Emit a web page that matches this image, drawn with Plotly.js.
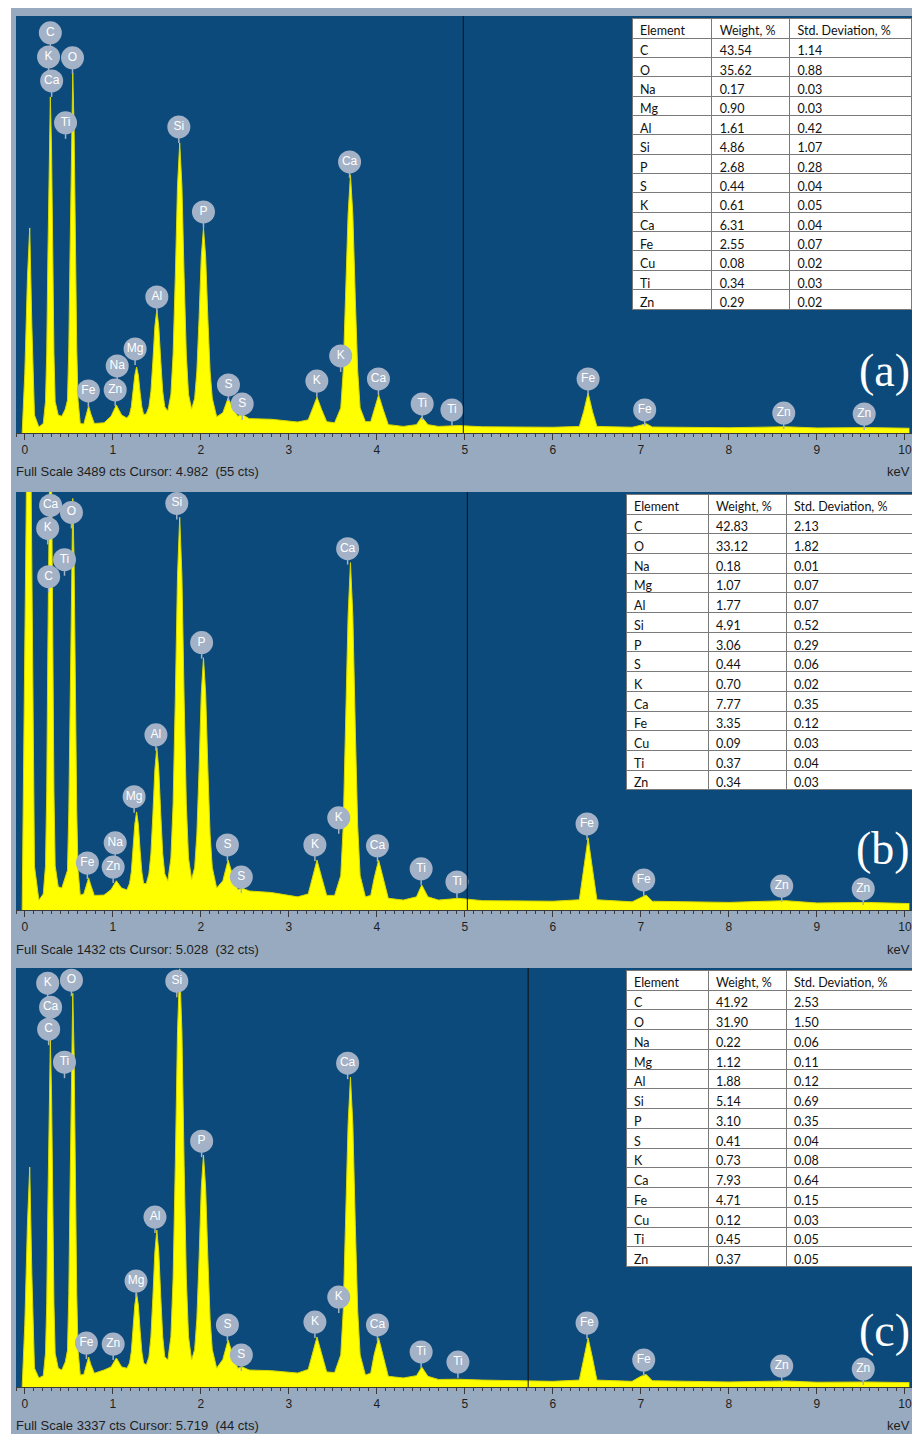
<!DOCTYPE html>
<html>
<head>
<meta charset="utf-8">
<script src="https://cdn.plot.ly/plotly-3.0.1.min.js"></script>
<style>
  html, body { margin: 0; padding: 0; background: #ffffff; }
  #chart { width: 912px; height: 1434px; }
</style>
</head>
<body>
<div id="chart"></div>
<script>
// ---------- DATA ----------
// Shared energy grid (keV)
const energyKeV = [
  -0.03, 0.00, 0.03, 0.056, 0.08, 0.11, 0.16, 0.21,
  0.235, 0.249, 0.262, 0.276, 0.29, 0.304, 0.318, 0.331, 0.345,
  0.38, 0.42, 0.46,
  0.485, 0.50, 0.515, 0.53, 0.545, 0.56, 0.575, 0.59, 0.605,
  0.63, 0.67, 0.70, 0.725, 0.75, 0.79,
  0.90, 0.98, 1.04, 1.10, 1.16,
  1.19, 1.21, 1.23, 1.25, 1.27, 1.29, 1.31, 1.33, 1.35,
  1.38,
  1.41, 1.433, 1.455, 1.478, 1.50, 1.522, 1.545, 1.567, 1.59,
  1.625,
  1.66, 1.685, 1.71, 1.735, 1.76, 1.785, 1.81, 1.835, 1.86,
  1.895,
  1.93, 1.955, 1.98, 2.005, 2.03, 2.055, 2.08, 2.105, 2.13,
  2.18,
  2.25, 2.31, 2.37, 2.42, 2.47, 2.55,
  2.80, 3.10,
  3.22, 3.27, 3.32, 3.37, 3.43,
  3.52,
  3.59, 3.618, 3.645, 3.673, 3.70, 3.727, 3.755, 3.782, 3.81,
  3.87,
  3.93, 3.97, 4.02, 4.07, 4.13,
  4.30, 4.45, 4.51, 4.58, 4.70,
  4.93, 5.20, 6.00,
  6.30, 6.35, 6.40, 6.45, 6.50,
  6.90, 7.00, 7.06, 7.13,
  8.00, 8.64, 9.00, 9.57, 10.05
];

const countsA = [
  0, 500, 1300, 1716, 900, 150, 50, 80,
  263, 670, 1456, 2378, 2812, 2378, 1456, 670, 263,
  150, 140, 200,
  275, 712, 1556, 2547, 3013, 2547, 1556, 712, 275,
  80, 75, 170, 226, 160, 80,
  85, 140, 234, 150, 125,
  155, 219, 341, 484, 552, 484, 341, 219, 155,
  160,
  219, 348, 599, 892, 1030, 892, 599, 348, 219,
  185,
  324, 660, 1309, 2069, 2427, 2069, 1309, 660, 324,
  200,
  291, 518, 958, 1473, 1716, 1473, 958, 518, 291,
  135,
  170, 293, 200, 140, 155, 120,
  115, 92,
  110, 210, 300, 200, 95,
  85,
  210, 521, 1123, 1828, 2160, 1828, 1123, 521, 210,
  95,
  95, 200, 318, 200, 70,
  55, 70, 134, 70, 55,
  62, 52, 48,
  55, 180, 335, 180, 55,
  48, 65, 78, 50,
  44, 52, 42, 45, 40
];

const countsB = [
  0, 1000, 1800, 2000, 1200, 150, 34, 55,
  152, 407, 900, 1478, 1750, 1478, 900, 407, 152,
  80, 75, 110,
  136, 340, 732, 1193, 1410, 1193, 732, 340, 136,
  51, 55, 90, 110, 85, 50,
  51, 70, 100, 75, 69,
  91, 130, 205, 294, 336, 294, 205, 130, 91,
  90,
  124, 193, 326, 482, 556, 482, 326, 193, 124,
  100,
  178, 364, 724, 1146, 1345, 1146, 724, 364, 178,
  105,
  146, 260, 482, 742, 864, 742, 482, 260, 146,
  75,
  100, 171, 110, 70, 75, 65,
  60, 45,
  55, 115, 171, 115, 50,
  50,
  118, 289, 620, 1008, 1190, 1008, 620, 289, 118,
  45,
  50, 110, 171, 110, 40,
  34, 45, 86, 45, 34,
  40, 32, 30,
  35, 140, 247, 140, 35,
  28, 42, 51, 30,
  26, 32, 24, 26, 22
];

const countsC = [
  0, 500, 1300, 1751, 900, 150, 72, 90,
  269, 667, 1436, 2338, 2762, 2338, 1436, 667, 269,
  150, 135, 200,
  292, 745, 1623, 2652, 3136, 2652, 1623, 745, 292,
  95, 100, 190, 239, 180, 110,
  135, 160, 231, 160, 150,
  191, 280, 452, 653, 748, 653, 452, 280, 191,
  175,
  240, 401, 713, 1078, 1250, 1078, 713, 401, 240,
  215,
  402, 869, 1773, 2832, 3330, 2832, 1773, 869, 402,
  215,
  299, 546, 1024, 1583, 1847, 1583, 1024, 546, 299,
  150,
  220, 374, 240, 150, 160, 135,
  130, 111,
  140, 280, 398, 270, 120,
  115,
  256, 609, 1292, 2092, 2468, 2092, 1292, 609, 256,
  95,
  110, 260, 390, 250, 85,
  72, 90, 159, 85, 60,
  62, 55, 45,
  55, 230, 390, 230, 55,
  45, 85, 100, 50,
  40, 48, 38, 40, 35
];

// Peak labels (element symbol, keV, counts)
const labelTextA = ['C','K','Ca','O','Ti','Si','P','Al','Mg','Na','Fe','Zn','S','S','K','K','Ca','Ca','Ti','Ti','Fe','Fe','Zn','Zn'];
const labelKeVA = [0.29,0.27,0.305,0.542,0.463,1.75,2.03,1.50,1.253,1.05,0.722,1.027,2.314,2.47,3.318,3.589,3.69,4.018,4.515,4.853,6.40,7.043,8.623,9.537];
const labelCountsA = [3348,3147,2946,3139,2595,2561,1850,1138,703,561,352,360,402,243,435,645,2268,452,243,193,452,193,167,159];

const labelTextB = ['Ca','O','K','Ti','C','Si','P','Al','Mg','Na','Fe','Zn','S','S','K','K','Ca','Ca','Ti','Ti','Fe','Fe','Zn','Zn'];
const labelKeVB = [0.293,0.53,0.26,0.451,0.271,1.727,2.009,1.49,1.242,1.027,0.711,1.004,2.302,2.46,3.296,3.567,3.668,4.007,4.503,4.91,6.388,7.032,8.6,9.526];
const labelCountsB = [1386,1362,1307,1200,1142,1393,916,600,388,230,161,147,223,113,223,316,1238,220,141,96,295,103,82,72];

const labelTextC = ['K','O','Ca','C','Ti','Si','P','Al','Mg','Fe','Zn','S','S','K','K','Ca','Ca','Ti','Ti','Fe','Fe','Zn','Zn'];
const labelKeVC = [0.26,0.53,0.293,0.271,0.451,1.727,2.009,1.479,1.264,0.700,1.004,2.302,2.46,3.296,3.567,3.668,4.007,4.503,4.921,6.388,7.032,8.6,9.526];
const labelCountsC = [3216,3240,3025,2850,2587,3232,1958,1353,844,350,342,494,255,517,716,2579,494,279,199,509,215,167,143];

// Acquisition info
const fullScaleCts = [3489, 1432, 3337];
const cursorKeV = [4.982, 5.028, 5.719];
const cursorCts = [55, 32, 44];
const panelLetters = ['(a)', '(b)', '(c)'];
const tickValues = [0,1,2,3,4,5,6,7,8,9,10];

// Composition tables
const tableHeader = ['Element', 'Weight, %', 'Std. Deviation, %'];
const elements = ['C','O','Na','Mg','Al','Si','P','S','K','Ca','Fe','Cu','Ti','Zn'];
const weightA = ['43.54','35.62','0.17','0.90','1.61','4.86','2.68','0.44','0.61','6.31','2.55','0.08','0.34','0.29'];
const stdA    = ['1.14','0.88','0.03','0.03','0.42','1.07','0.28','0.04','0.05','0.04','0.07','0.02','0.03','0.02'];
const weightB = ['42.83','33.12','0.18','1.07','1.77','4.91','3.06','0.44','0.70','7.77','3.35','0.09','0.37','0.34'];
const stdB    = ['2.13','1.82','0.01','0.07','0.07','0.52','0.29','0.06','0.02','0.35','0.12','0.03','0.04','0.03'];
const weightC = ['41.92','31.90','0.22','1.12','1.88','5.14','3.10','0.41','0.73','7.93','4.71','0.12','0.45','0.37'];
const stdC    = ['2.53','1.50','0.06','0.11','0.12','0.69','0.35','0.04','0.08','0.64','0.15','0.03','0.05','0.05'];

// ---------- LAYOUT HELPERS ----------
const W = 912, H = 1434;
const px = v => v / W;
const py = v => 1 - v / H;

const panels = [
  {counts: countsA, lt: labelTextA, lk: labelKeVA, lc: labelCountsA, weight: weightA, std: stdA,
   top: 16, bottom: 433, tbl: {x0: 632, y0: 18, y1: 309, cw: [80, 78, 122], ch: 19.36}, letterY: 370, infoY: 472},
  {counts: countsB, lt: labelTextB, lk: labelKeVB, lc: labelCountsB, weight: weightB, std: stdB,
   top: 492, bottom: 910, tbl: {x0: 626, y0: 494, y1: 790, cw: [82, 78, 126], ch: 19.7}, letterY: 848, infoY: 949},
  {counts: countsC, lt: labelTextC, lk: labelKeVC, lc: labelCountsC, weight: weightC, std: stdC,
   top: 968, bottom: 1387, tbl: {x0: 626, y0: 970, y1: 1267, cw: [82, 78, 126], ch: 19.75}, letterY: 1330, infoY: 1425}
];

const plotBg = '#0c4a7c';
const frameColor = '#97aac0';
const yellow = '#ffff00';
const labelGrey = '#a3b2c6';
const tickFont = {family: 'Liberation Sans, Arial, sans-serif', size: 12, color: '#1e1e1e'};

const data = [];
const layout = {
  width: W, height: H,
  margin: {l: 0, r: 0, t: 0, b: 0},
  paper_bgcolor: frameColor,
  plot_bgcolor: plotBg,
  showlegend: false,
  hovermode: false,
  shapes: [
    {type: 'rect', xref: 'paper', yref: 'paper', x0: 0, x1: px(11), y0: 0, y1: 1,
     fillcolor: '#ffffff', line: {width: 0}, layer: 'above'},
    {type: 'rect', xref: 'paper', yref: 'paper', x0: 0, x1: 1, y0: py(8), y1: 1,
     fillcolor: '#ffffff', line: {width: 0}, layer: 'above'}
  ],
  annotations: []
};

panels.forEach((p, i) => {
  const n = i === 0 ? '' : String(i + 1);
  const xa = 'xaxis' + n, ya = 'yaxis' + n;
  const xr = 'x' + n, yr = 'y' + n;
  const fs = fullScaleCts[i];
  const ctsPerPx = fs / (p.bottom - p.top);

  layout[xa] = {
    domain: [px(16), 1],
    anchor: yr,
    range: [-0.10, 10.08],
    tickmode: 'array', tickvals: tickValues,
    ticks: 'outside', ticklen: 6, tickwidth: 1, tickcolor: '#3a3a3a',
    minor: {dtick: 0.1, tick0: 0, ticks: 'outside', ticklen: 3, tickwidth: 1, tickcolor: '#3a3a3a'},
    showline: true, linecolor: '#3a3a3a', linewidth: 1,
    showgrid: false, zeroline: false,
    tickfont: tickFont,
    fixedrange: true
  };
  layout[ya] = {
    domain: [py(p.bottom), py(p.top)],
    anchor: xr,
    range: [0, fs],
    visible: false,
    showgrid: false, zeroline: false,
    fixedrange: true
  };

  // spectrum
  data.push({
    type: 'scatter', mode: 'lines', xaxis: xr, yaxis: yr,
    x: energyKeV, y: p.counts,
    fill: 'tozeroy', fillcolor: yellow,
    line: {color: '#d8d800', width: 1}
  });

  // stems under the label circles
  const sx = [], sy = [];
  const stemLen = 16 * ctsPerPx;
  p.lk.forEach((k, j) => {
    sx.push(k, k, null);
    sy.push(p.lc[j], p.lc[j] - stemLen, null);
  });
  data.push({
    type: 'scatter', mode: 'lines', xaxis: xr, yaxis: yr,
    x: sx, y: sy, line: {color: labelGrey, width: 1.5}, cliponaxis: false
  });

  // label circles
  data.push({
    type: 'scatter', mode: 'markers+text', xaxis: xr, yaxis: yr,
    x: p.lk, y: p.lc, text: p.lt,
    textposition: 'middle center',
    textfont: {family: 'Liberation Sans, Arial, sans-serif', size: 12, color: '#ffffff'},
    marker: {size: 23, color: labelGrey, line: {width: 0}},
    cliponaxis: false
  });

  // composition table
  data.push({
    type: 'table',
    domain: {x: [px(p.tbl.x0), 1], y: [py(p.tbl.y1 + 4), py(p.tbl.y0)]},
    columnwidth: p.tbl.cw,
    header: {
      values: tableHeader,
      align: 'left', height: 20,
      fill: {color: '#ffffff'},
      line: {color: '#7a7a7a', width: 1},
      font: {family: 'Lato, Open Sans, sans-serif', size: 12.5, color: '#111111'}
    },
    cells: {
      values: [elements, p.weight, p.std],
      align: 'left', height: p.tbl.ch,
      fill: {color: '#ffffff'},
      line: {color: '#7a7a7a', width: 1},
      font: {family: 'Lato, Open Sans, sans-serif', size: 12.5, color: '#111111'}
    }
  });

  // cursor line
  layout.shapes.push({
    type: 'line', xref: xr, yref: yr + ' domain',
    x0: cursorKeV[i], x1: cursorKeV[i], y0: 0, y1: 1,
    line: {color: '#111111', width: 1}
  });

  // info line
  layout.annotations.push({
    xref: 'paper', yref: 'paper', x: px(14), y: py(p.infoY),
    xanchor: 'left', yanchor: 'middle', showarrow: false,
    text: 'Full Scale ' + fs + ' cts Cursor: ' + cursorKeV[i].toFixed(3) + '\u00a0\u00a0(' + cursorCts[i] + ' cts)',
    font: {family: 'Liberation Sans, Arial, sans-serif', size: 13, color: '#1e1e1e'}
  });
  layout.annotations.push({
    xref: 'paper', yref: 'paper', x: 1, y: py(p.infoY),
    xanchor: 'right', yanchor: 'middle', showarrow: false,
    text: 'keV',
    font: {family: 'Liberation Sans, Arial, sans-serif', size: 13, color: '#1e1e1e'}
  });
  // panel letter
  layout.annotations.push({
    xref: 'paper', yref: 'paper', x: 1, y: py(p.letterY),
    xanchor: 'right', yanchor: 'middle', showarrow: false,
    text: panelLetters[i],
    font: {family: 'Liberation Serif, DejaVu Serif, serif', size: 46, color: '#ffffff'}
  });
});

Plotly.newPlot('chart', data, layout, {displayModeBar: false, staticPlot: true});
</script>
</body>
</html>
